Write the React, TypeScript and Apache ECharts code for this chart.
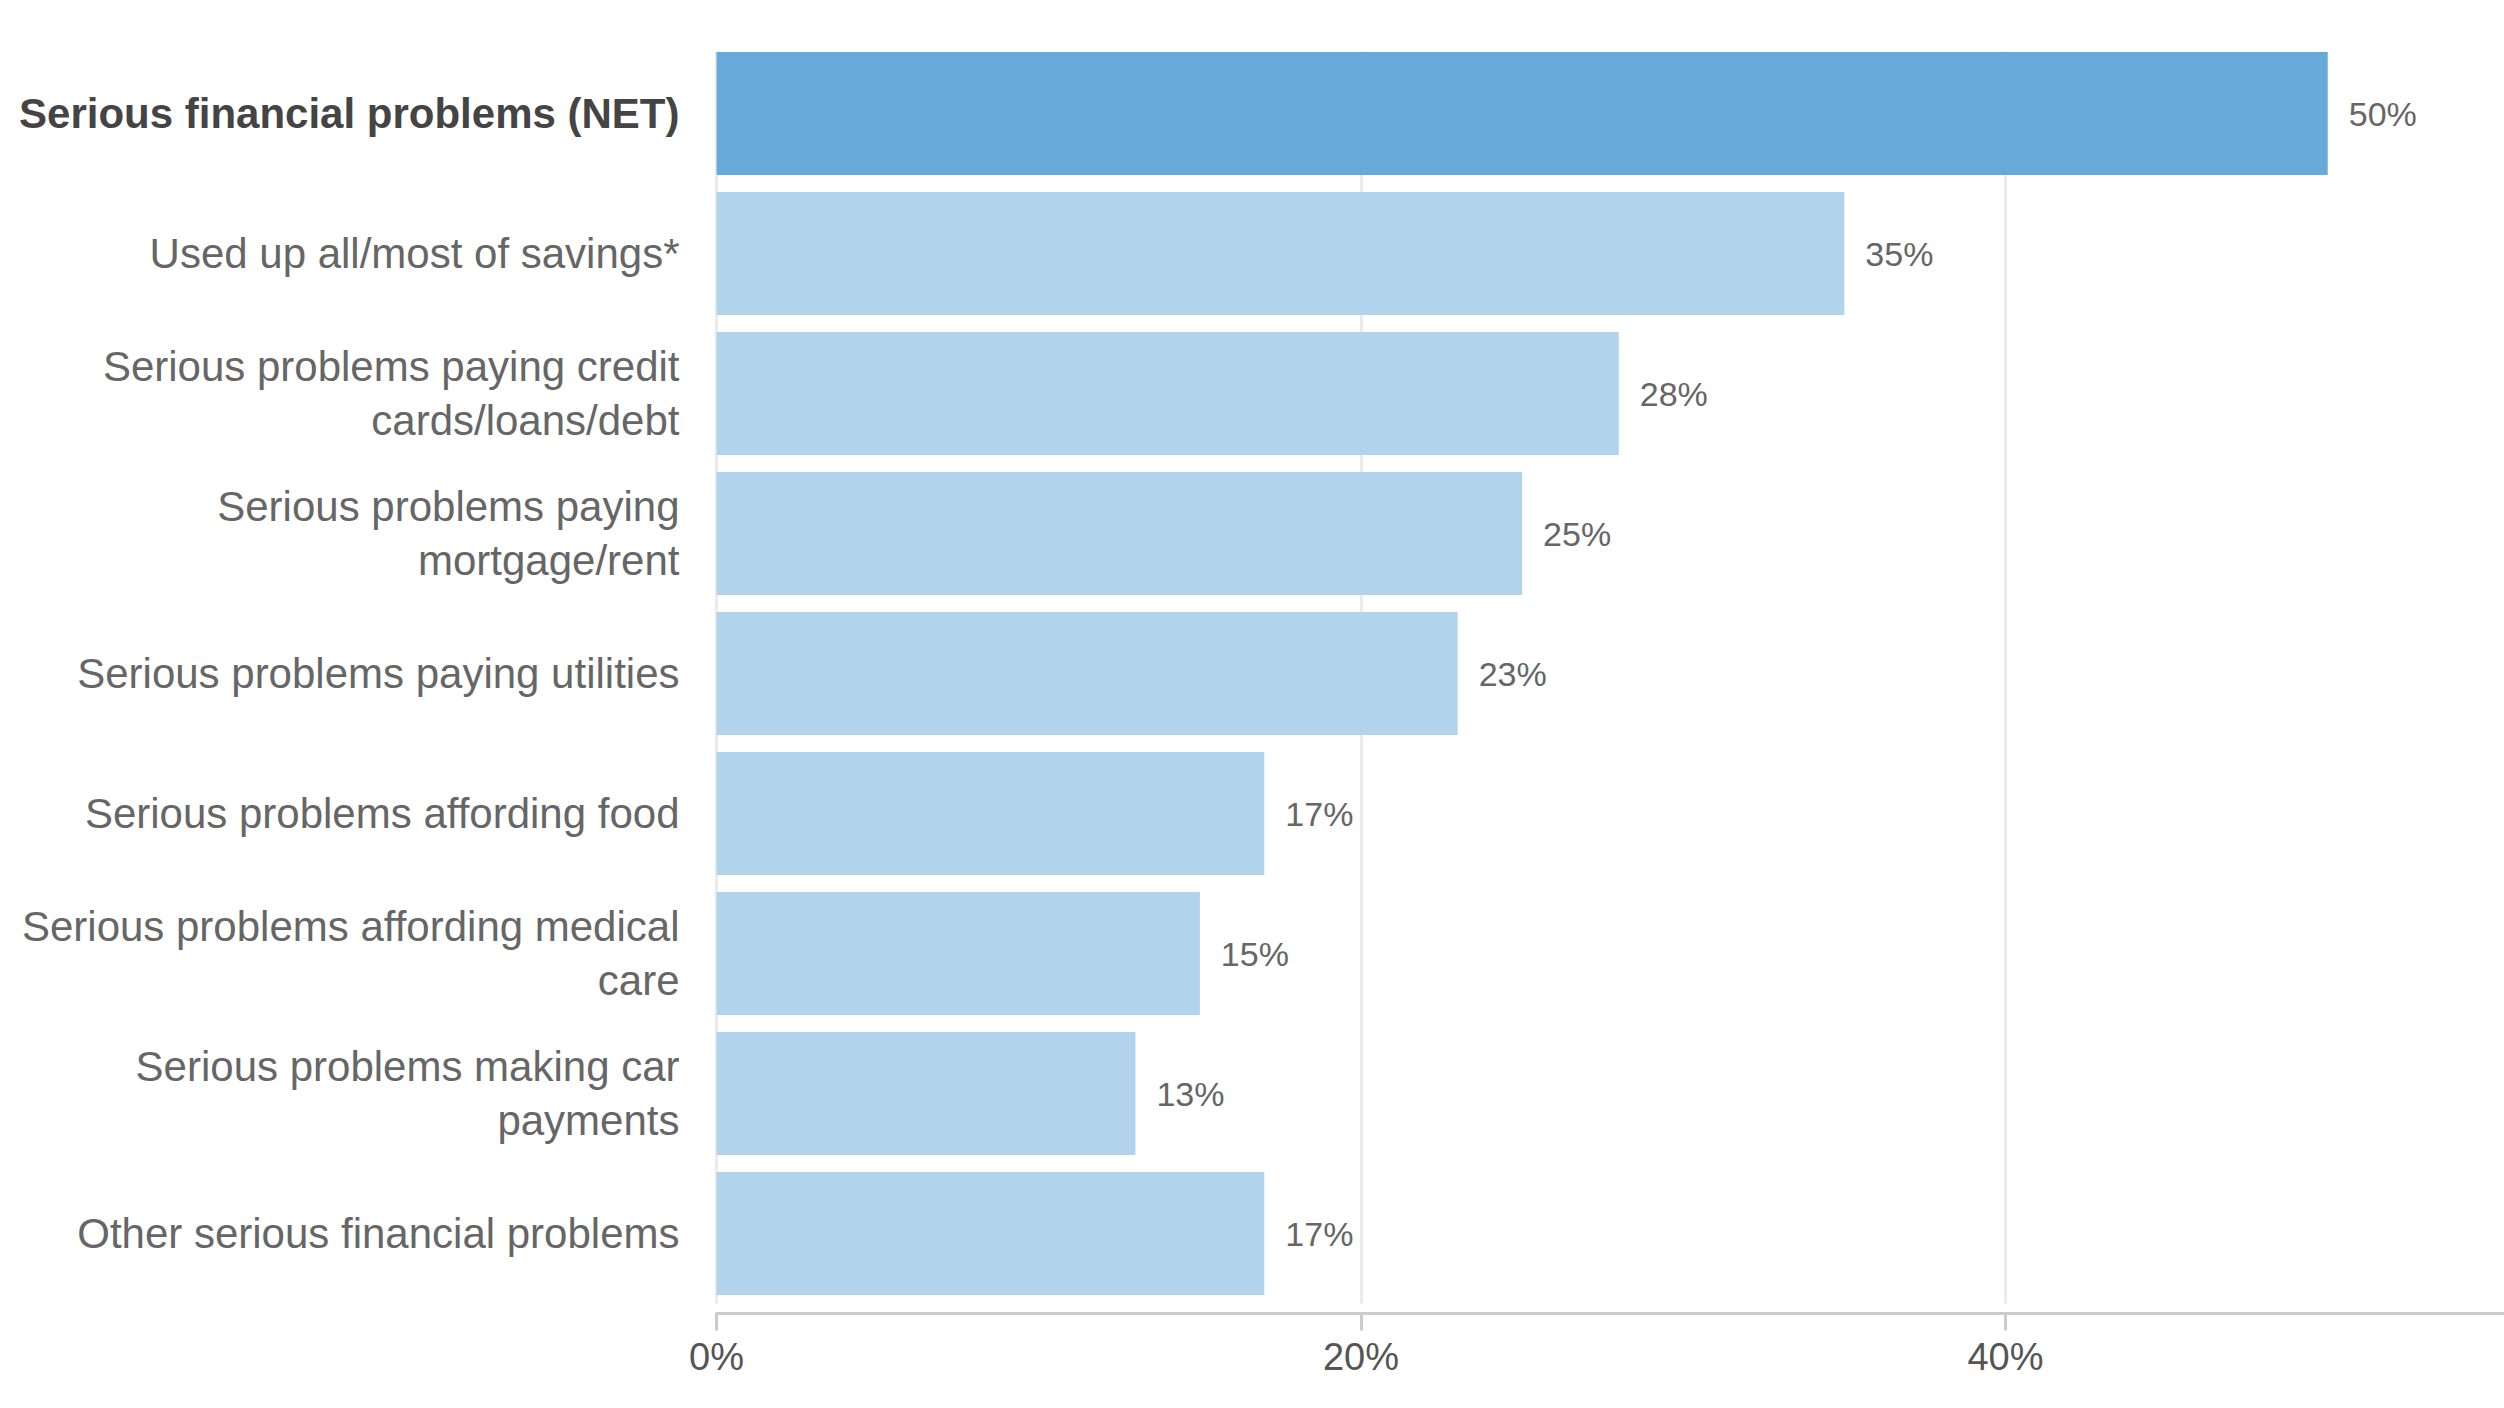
import React, { useEffect, useRef } from "react";
import * as echarts from "echarts";

const categories: string[] = [
  "Serious financial problems (NET)",
  "Used up all/most of savings*",
  "Serious problems paying credit\ncards/loans/debt",
  "Serious problems paying\nmortgage/rent",
  "Serious problems paying utilities",
  "Serious problems affording food",
  "Serious problems affording medical\ncare",
  "Serious problems making car\npayments",
  "Other serious financial problems",
];

const values: number[] = [50, 35, 28, 25, 23, 17, 15, 13, 17];

const barColors: string[] = [
  "#67a9d9",
  "#b1d4ec",
  "#b1d4ec",
  "#b1d4ec",
  "#b1d4ec",
  "#b1d4ec",
  "#b1d4ec",
  "#b1d4ec",
  "#b1d4ec",
];

const boldCategoryIndex = 0;

const xTicks: number[] = [0, 20, 40];

const FONT = "'Liberation Sans', Arial, Helvetica, sans-serif";

export default function App() {
  const ref = useRef<HTMLDivElement>(null);

  useEffect(() => {
    if (!ref.current) return;
    const chart = echarts.init(ref.current, undefined, { renderer: "svg" });
    chart.setOption({
      animation: false,
      backgroundColor: "#ffffff",
      textStyle: { fontFamily: FONT },
      grid: {
        left: 716.5,
        right: 0,
        top: 43.5,
        bottom: 104.5,
        containLabel: false,
      },
      graphic: [
        {
          type: "rect",
          z: 5,
          silent: true,
          shape: { x: 700, y: 0, width: 1830, height: 51.5 },
          style: { fill: "#ffffff" },
        },
        {
          type: "rect",
          z: 5,
          silent: true,
          shape: { x: 2499, y: 0, width: 10, height: 1306 },
          style: { fill: "#ffffff" },
        },
        {
          type: "rect",
          z: 5,
          silent: true,
          shape: { x: 2499, y: 1316, width: 10, height: 30 },
          style: { fill: "#ffffff" },
        },
      ],
      xAxis: {
        type: "value",
        min: 0,
        max: 55.47,
        interval: 20,
        offset: 10,
        axisLine: { show: true, lineStyle: { color: "#cccccc", width: 3 } },
        axisTick: { show: true, length: 17, lineStyle: { color: "#cccccc", width: 3 } },
        splitLine: {
          show: true,
          showMaxLine: false,
          lineStyle: { color: "#ebebeb", width: 3 },
        },
        axisLabel: {
          showMaxLabel: false,
          margin: 24,
          fontSize: 38,
          color: "#555555",
          fontFamily: FONT,
          formatter: (v: number) => (xTicks.indexOf(v) >= 0 ? v + "%" : ""),
        },
      },
      yAxis: {
        type: "category",
        inverse: true,
        data: categories,
        axisLine: { show: false },
        axisTick: { show: false },
        splitLine: { show: false },
        axisLabel: {
          margin: 37,
          fontSize: 42,
          lineHeight: 54,
          color: "#666666",
          fontFamily: FONT,
          align: "right",
          formatter: (v: string, i: number) =>
            i === boldCategoryIndex ? "{b|" + v + "}" : v,
          rich: {
            b: {
              fontSize: 42,
              fontWeight: "bold",
              color: "#444444",
              fontFamily: FONT,
            },
          },
        },
      },
      series: [
        {
          type: "bar",
          z: 10,
          barCategoryGap: "12%",
          data: values.map((v, i) => ({
            value: v,
            itemStyle: { color: barColors[i] },
          })),
          label: {
            show: true,
            position: "right",
            distance: 21,
            fontSize: 34,
            color: "#666666",
            fontFamily: FONT,
            formatter: (p: any) => p.value + "%",
          },
        },
      ],
    });
    return () => chart.dispose();
  }, []);

  return (
    <div
      ref={ref}
      style={{ position: "absolute", left: 0, top: 0, width: 2504, height: 1408 }}
    />
  );
}
